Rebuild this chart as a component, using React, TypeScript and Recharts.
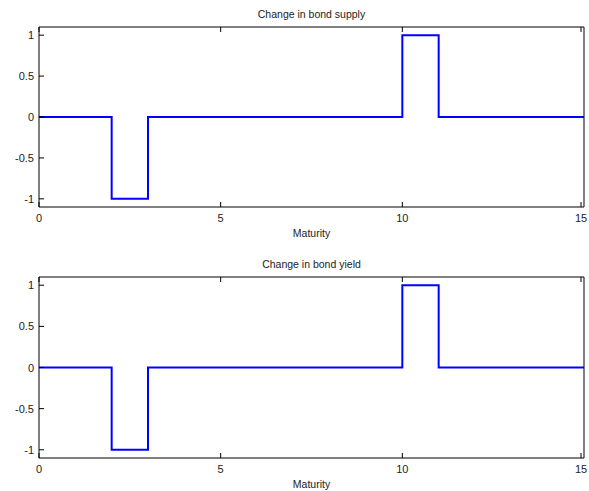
import { LineChart, Line, XAxis, YAxis } from 'recharts'

const maturity = [0, 1, 2, 3, 4, 5, 6, 7, 8, 9, 10, 11, 12, 13, 14, 15]
const supplyChange = [0, 0, -1, 0, 0, 0, 0, 0, 0, 0, 1, 0, 0, 0, 0, 0]
const yieldChange = [0, 0, -1, 0, 0, 0, 0, 0, 0, 0, 1, 0, 0, 0, 0, 0]
const xTicks = [0, 5, 10, 15]
const yTicks = [-1, -0.5, 0, 0.5, 1]

const FONT = '"Liberation Sans", Arial, sans-serif'

const BottomTick = (p: any) => (
  <g>
    <line x1={p.x} y1={p.y} x2={p.x} y2={p.y - 5} stroke="#000" />
    <text x={p.x} y={p.y + 15} textAnchor="middle" fontSize={11} fontFamily={FONT} fill="#222">{p.payload.value}</text>
  </g>
)
const TopTick = (p: any) => <line x1={p.x} y1={p.y} x2={p.x} y2={p.y + 5} stroke="#000" />
const LeftTick = (p: any) => (
  <g>
    <line x1={p.x} y1={p.y} x2={p.x + 5} y2={p.y} stroke="#000" />
    <text x={p.x - 5} y={p.y + 4} textAnchor="end" fontSize={11} fontFamily={FONT} fill="#222">{p.payload.value}</text>
  </g>
)
const RightTick = (p: any) => <line x1={p.x} y1={p.y} x2={p.x - 5} y2={p.y} stroke="#000" />

function Panel({ title, values, top, height, bottom }: { title: string; values: number[]; top: number; height: number; bottom: number }) {
  const data = maturity.map((m, i) => ({ m, v: values[i] }))
  const axisLine = { stroke: '#000', strokeWidth: 1 }
  return (
    <div style={{ position: 'absolute', left: 0, top, width: 589, height }}>
      <div style={{ position: 'absolute', left: 39, width: 545, top: 8, textAlign: 'center', fontSize: 10.5, fontFamily: FONT, color: '#222' }}>{title}</div>
      <LineChart width={589} height={height} data={data} margin={{ top: 26, right: 4, bottom: bottom - 1, left: 0 }}>
        <XAxis xAxisId="b" dataKey="m" type="number" domain={[0, 15]} ticks={xTicks} tickSize={0} tickMargin={0} tick={<BottomTick />} tickLine={false} axisLine={axisLine} height={1} />
        <XAxis xAxisId="t" dataKey="m" type="number" orientation="top" domain={[0, 15]} ticks={xTicks} tickSize={0} tickMargin={0} tick={<TopTick />} tickLine={false} axisLine={axisLine} height={1} />
        <YAxis yAxisId="l" type="number" domain={[-1.1, 1.1]} ticks={yTicks} tickSize={0} tickMargin={0} tick={<LeftTick />} tickLine={false} axisLine={axisLine} width={39} />
        <YAxis yAxisId="r" type="number" orientation="right" domain={[-1.1, 1.1]} ticks={yTicks} tickSize={0} tickMargin={0} tick={<RightTick />} tickLine={false} axisLine={axisLine} width={1} />
        <Line xAxisId="b" yAxisId="l" type="stepAfter" dataKey="v" stroke="#0000ff" strokeWidth={2} dot={false} isAnimationActive={false} />
      </LineChart>
      <div style={{ position: 'absolute', left: 39, width: 545, top: height - bottom + 20, textAlign: 'center', fontSize: 10.5, fontFamily: FONT, color: '#222' }}>Maturity</div>
    </div>
  )
}

export default function App() {
  return (
    <div style={{ position: 'absolute', left: 0, top: 0, width: 589, height: 491, background: '#fff' }}>
      <Panel title="Change in bond supply" values={supplyChange} top={0} height={245} bottom={38} />
      <Panel title="Change in bond yield" values={yieldChange} top={250} height={241} bottom={33} />
    </div>
  )
}
